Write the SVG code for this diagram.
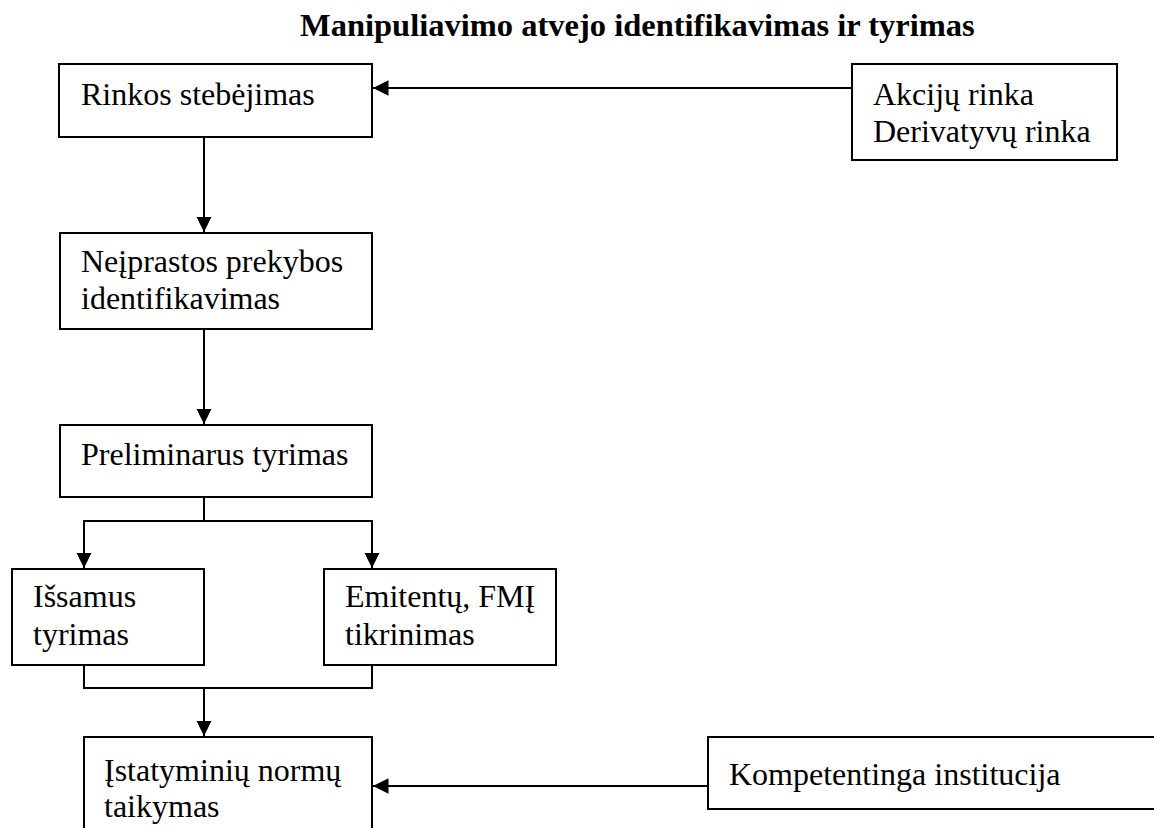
<svg xmlns="http://www.w3.org/2000/svg" width="1154" height="828" viewBox="0 0 1154 828">
<style>
.box{fill:#fff;stroke:#000;stroke-width:2}
.t{font-family:"Liberation Serif","Times New Roman",serif;font-size:32px;fill:#000}
.title{font-family:"Liberation Serif","Times New Roman",serif;font-size:32.5px;font-weight:bold;fill:#000}
.c{fill:none;stroke:#000;stroke-width:2}
</style>
<defs>
<marker id="ah" markerWidth="16" markerHeight="16" viewBox="0 0 16 16" refX="15.5" refY="8" orient="auto" markerUnits="userSpaceOnUse">
<path d="M0,0.3 L15.5,8 L0,15.7 Z" fill="#000"/>
</marker>
</defs>
<rect width="1154" height="828" fill="#fff"/>
<text class="title" x="300" y="36">Manipuliavimo atvejo identifikavimas ir tyrimas</text>

<g id="connectors">
<line class="c" x1="852" y1="88" x2="373" y2="88" marker-end="url(#ah)"/>
<line class="c" x1="204" y1="137" x2="204" y2="232" marker-end="url(#ah)"/>
<line class="c" x1="204" y1="329" x2="204" y2="424" marker-end="url(#ah)"/>
<polyline class="c" points="204,497 204,521"/>
<polyline class="c" points="84,568 84,521 372,521 372,568"/>
<line class="c" x1="84" y1="521" x2="84" y2="568" marker-end="url(#ah)"/>
<line class="c" x1="372" y1="521" x2="372" y2="568" marker-end="url(#ah)"/>
<polyline class="c" points="84,665 84,688 372,688 372,665"/>
<line class="c" x1="204" y1="688" x2="204" y2="736" marker-end="url(#ah)"/>
<line class="c" x1="708" y1="786" x2="373" y2="786" marker-end="url(#ah)"/>
</g>

<g id="n_rinkos">
<rect class="box" x="59" y="64" width="313" height="73"/>
<text class="t" x="81" y="105">Rinkos stebėjimas</text>
</g>
<g id="n_akciju">
<rect class="box" x="852" y="64" width="265" height="96"/>
<text class="t" x="873" y="105">Akcijų rinka</text>
<text class="t" x="873" y="142">Derivatyvų rinka</text>
</g>
<g id="n_neiprastos">
<rect class="box" x="60" y="233" width="312" height="96"/>
<text class="t" x="81" y="272">Neįprastos prekybos</text>
<text class="t" x="81" y="309">identifikavimas</text>
</g>
<g id="n_preliminarus">
<rect class="box" x="60" y="425" width="312" height="72"/>
<text class="t" x="81" y="465">Preliminarus tyrimas</text>
</g>
<g id="n_issamus">
<rect class="box" x="12" y="569" width="192" height="96"/>
<text class="t" x="33" y="607">Išsamus</text>
<text class="t" x="33" y="645">tyrimas</text>
</g>
<g id="n_emitentu">
<rect class="box" x="324" y="569" width="232" height="96"/>
<text class="t" x="345" y="607">Emitentų, FMĮ</text>
<text class="t" x="345" y="645">tikrinimas</text>
</g>
<g id="n_istatyminiu">
<path class="c" d="M84,830 L84,737 L372,737 L372,830"/>
<text class="t" x="104" y="781">Įstatyminių normų</text>
<text class="t" x="104" y="817">taikymas</text>
</g>
<g id="n_kompetentinga">
<path class="c" d="M1160,737 L708,737 L708,809 L1160,809"/>
<text class="t" x="729" y="785">Kompetentinga institucija</text>
</g>
</svg>
